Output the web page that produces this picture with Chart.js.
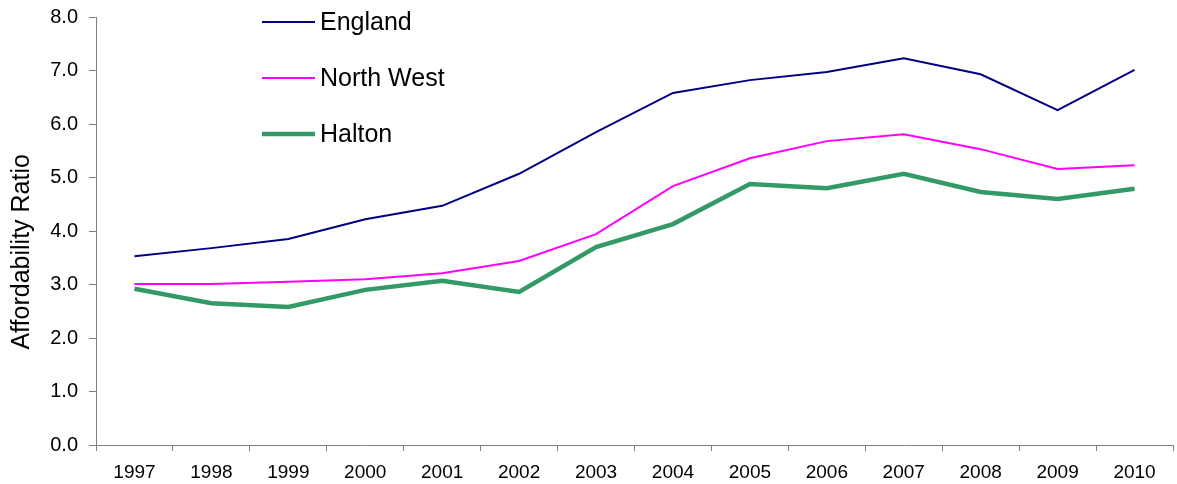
<!DOCTYPE html>
<html>
<head>
<meta charset="utf-8">
<script src="https://cdn.jsdelivr.net/npm/chart.js@4"></script>
<style>
  html, body { margin: 0; padding: 0; background: #fff; }
  #wrap { width: 1177px; height: 484px; }
</style>
</head>
<body>
<div id="wrap"><canvas id="grafico" width="1177" height="484"></canvas></div>
<script>
// Datos
const years = ["1997", "1998", "1999", "2000", "2001", "2002", "2003", "2004", "2005", "2006", "2007", "2008", "2009", "2010"];
const england = [3.53, 3.68, 3.85, 4.22, 4.47, 5.07, 5.85, 6.58, 6.82, 6.97, 7.23, 6.93, 6.26, 7.01];
const northWest = [3.01, 3.01, 3.05, 3.10, 3.21, 3.44, 3.94, 4.84, 5.36, 5.68, 5.81, 5.53, 5.16, 5.23];
const halton = [2.92, 2.65, 2.58, 2.90, 3.07, 2.86, 3.70, 4.13, 4.88, 4.80, 5.07, 4.73, 4.60, 4.79];

const fuente = "'Liberation Sans', Arial, sans-serif";
const gris = "#808080";

// Leyenda dentro del area del grafico, en columna
const leyendaInterna = {
    id: "leyendaInterna",
    afterDraw(chart) {
        const ctx = chart.ctx;
        ctx.save();
        ctx.font = "25px " + fuente;
        ctx.textBaseline = "middle";
        chart.data.datasets.forEach((ds, i) => {
            const y = 22 + i * 56;
            ctx.strokeStyle = ds.borderColor;
            ctx.lineWidth = ds.borderWidth;
            ctx.lineCap = "butt";
            ctx.beginPath();
            ctx.moveTo(262, y);
            ctx.lineTo(315, y);
            ctx.stroke();
            ctx.fillStyle = "#000";
            ctx.fillText(ds.label, 320, y + 1);
        });
        ctx.restore();
    }
};

new Chart(document.getElementById("grafico").getContext("2d"), {
    type: "line",
    data: {
        labels: years,
        datasets: [
            { label: "England", data: england, borderColor: "#000080", borderWidth: 2 },
            { label: "North West", data: northWest, borderColor: "#FF00FF", borderWidth: 2 },
            { label: "Halton", data: halton, borderColor: "#339966", borderWidth: 4.5 }
        ]
    },
    options: {
        responsive: false,
        animation: false,
        elements: {
            point: { radius: 0 },
            line: { tension: 0, borderCapStyle: "butt", borderJoinStyle: "miter" }
        },
        layout: {
            padding: { left: 0, right: 4, top: 17, bottom: 0 }
        },
        plugins: {
            legend: { display: false },
            title: { display: false },
            tooltip: { enabled: false }
        },
        scales: {
            x: {
                offset: true,
                grid: {
                    offset: true,
                    drawOnChartArea: false,
                    color: gris,
                    tickLength: 6
                },
                border: { display: true, color: gris, width: 1 },
                ticks: {
                    color: "#000",
                    font: { family: fuente, size: 19 },
                    padding: 10,
                    maxRotation: 0,
                    autoSkip: false
                },
                afterFit(scale) { scale.height = 39; }
            },
            y: {
                min: 0,
                max: 8,
                grid: {
                    drawOnChartArea: false,
                    color: gris,
                    tickLength: 7
                },
                border: { display: true, color: gris, width: 1 },
                ticks: {
                    stepSize: 1,
                    color: "#000",
                    font: { family: fuente, size: 20 },
                    padding: 11,
                    callback: (v) => Number(v).toFixed(1)
                },
                title: {
                    display: true,
                    // espacios al final para bajar un poco el titulo
                    text: "Affordability Ratio      ",
                    color: "#000",
                    font: { family: fuente, size: 25 },
                    padding: { top: 7, bottom: 0 }
                },
                afterFit(scale) {
                    scale.width = 96;
                    scale.paddingTop = 0;
                }
            }
        }
    },
    plugins: [leyendaInterna]
});
</script>
</body>
</html>
